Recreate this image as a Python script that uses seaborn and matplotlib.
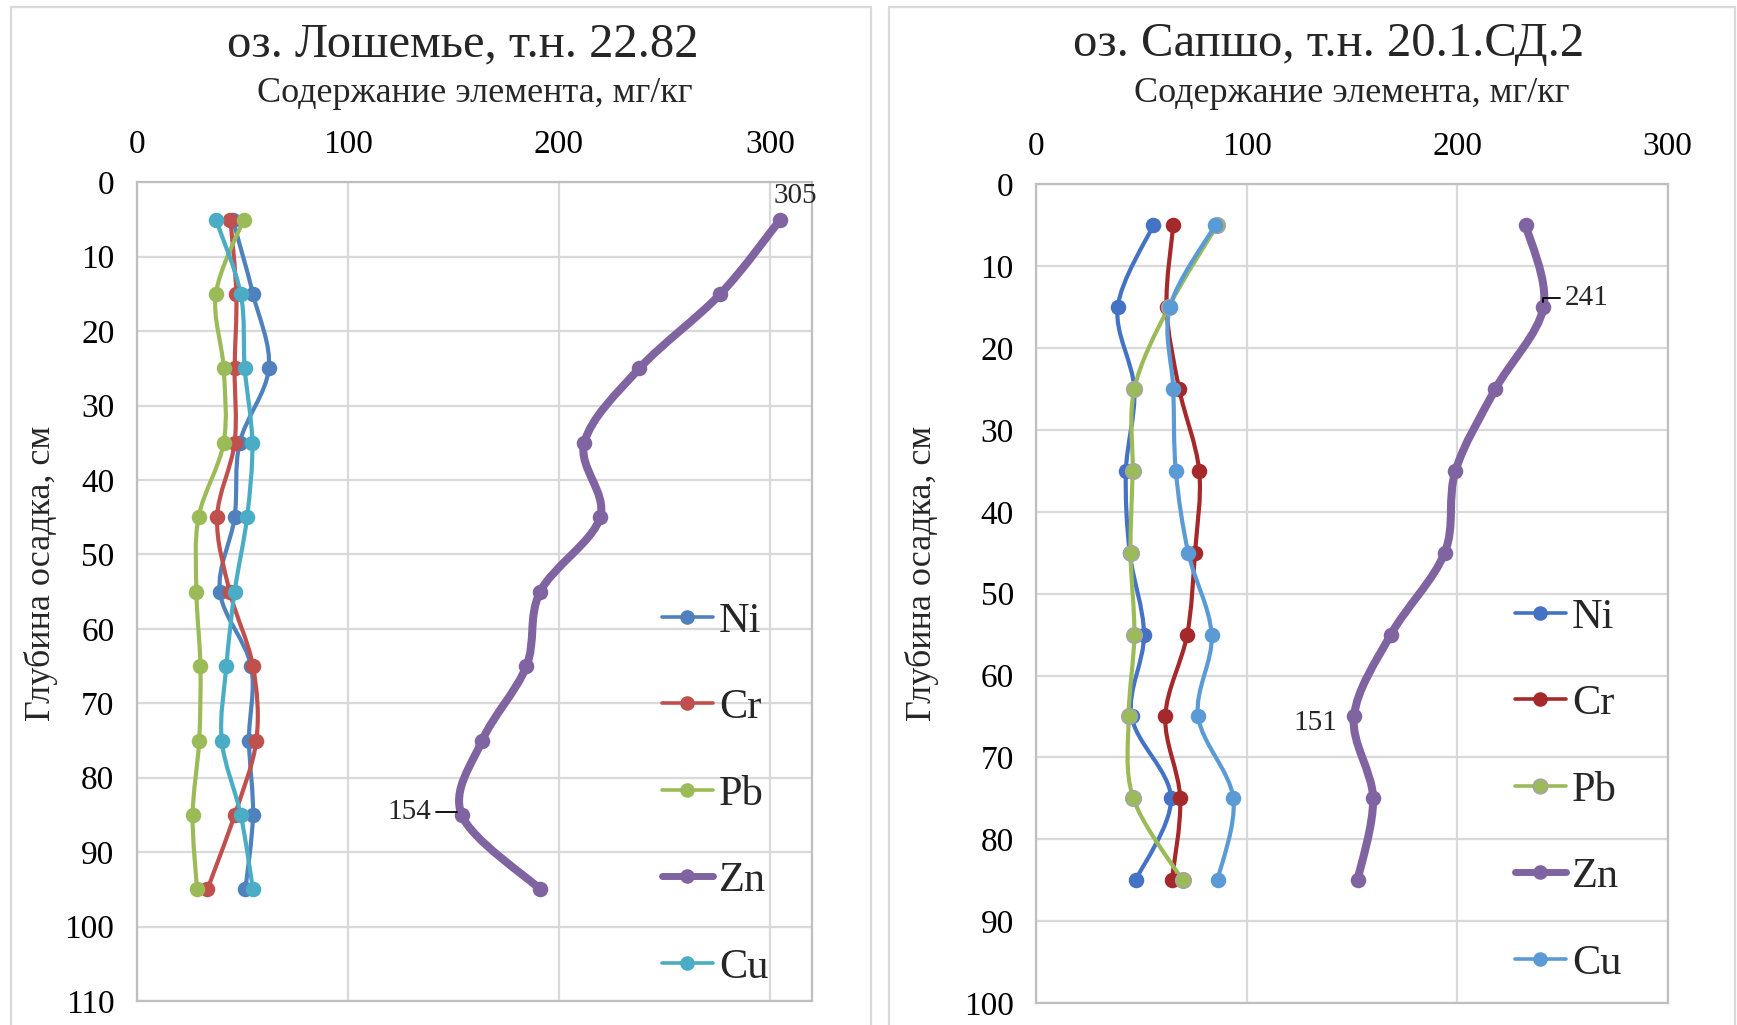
import numpy as np
import matplotlib
matplotlib.use("Agg")
import matplotlib.pyplot as plt
from matplotlib.path import Path
from matplotlib.patches import PathPatch, Rectangle
from matplotlib.lines import Line2D
import seaborn as sns

# ---------------- data ----------------
elements = ["Ni", "Cr", "Pb", "Zn", "Cu"]

depth_L = [5, 15, 25, 35, 45, 55, 65, 75, 85, 95]
ni_L = [45.5, 55.1, 62.6, 48.8, 46.4, 39.4, 54.2, 53.2, 55.1, 51.5]
cr_L = [44.4, 47.2, 46.4, 46.4, 38.1, 44.1, 55.1, 56.7, 46.4, 33.5]
pb_L = [50.7, 37.5, 41.2, 41.2, 29.3, 28.3, 30.2, 29.6, 26.5, 28.6]
zn_L = [305, 276.6, 238.2, 212.1, 219.6, 191.2, 184.7, 163.7, 154, 191.3]
cu_L = [37.5, 49.3, 51.2, 54.8, 52.3, 46.4, 42.5, 40.3, 49.3, 55.1]

depth_R = [5, 15, 25, 35, 45, 55, 65, 75, 85]
ni_R = [55.7, 38.8, 46.7, 42.7, 44.5, 51.3, 45.4, 64.1, 47.3]
cr_R = [65.2, 62.0, 68.0, 77.5, 75.5, 71.8, 61.4, 68.5, 64.5]
pb_R = [86.0, 63.0, 46.7, 45.9, 44.9, 46.7, 44.0, 46.2, 69.6]
zn_R = [232.6, 241, 218.2, 199.2, 194.1, 168.5, 151, 160.1, 152.7]
cu_R = [85.1, 63.6, 65.2, 66.4, 72.3, 83.4, 77.0, 93.7, 86.2]

title_L = "оз. Лошемье, т.н. 22.82"
title_R = "оз. Сапшо, т.н. 20.1.СД.2"
xlabel = "Содержание элемента, мг/кг"
ylabel = "Глубина осадка, см"
xticks = [0, 100, 200, 300]
yticks_L = list(range(0, 111, 10))
yticks_R = list(range(0, 101, 10))

# ---------------- style ----------------
sns.set_theme(style="white")
plt.rcParams["font.family"] = ["Liberation Serif", "DejaVu Serif"]

W, H = 1737, 1025
fig = plt.figure(figsize=(W / 100, H / 100), dpi=100)
fig.patch.set_facecolor("white")

def fx(px):
    return px / W

def fy(py):
    return 1 - py / H

# chart-area borders
for x0, x1 in [(11, 871), (889, 1735)]:
    fig.add_artist(Rectangle((fx(x0), fy(1030)), fx(x1 - x0), (1030 - 7) / H,
                             transform=fig.transFigure, fill=False,
                             edgecolor="#D9D9D9", lw=1.6, zorder=0))


def smooth_path(xs, ys):
    pts = np.column_stack([xs, ys]).astype(float)
    n = len(pts)
    verts = [pts[0]]
    codes = [Path.MOVETO]
    for i in range(n - 1):
        p0 = pts[i - 1] if i > 0 else pts[i]
        p1 = pts[i]
        p2 = pts[i + 1]
        p3 = pts[i + 2] if i + 2 < n else pts[i + 1]
        c1 = p1 + (p2 - p0) / 6.0
        c2 = p2 - (p3 - p1) / 6.0
        verts += [c1, c2, p2]
        codes += [Path.CURVE4] * 3
    return Path(verts, codes)


def panel(rect, depth, series, colors, xmax, ymax, yticks, title, title_x,
          legend_anchor, pb_edge, annots, ylab_x):
    ax = fig.add_axes(rect)
    ax.set_facecolor("white")
    lws = {"Ni": 3.0, "Cr": 3.0, "Pb": 3.0, "Zn": 5.8, "Cu": 3.0}
    handles = []
    for name, vals in zip(elements, series):
        col = colors[name]
        patch = PathPatch(smooth_path(vals, depth), facecolor="none",
                          edgecolor=col, lw=lws[name], capstyle="round",
                          joinstyle="round", zorder=3)
        ax.add_patch(patch)
        ec = pb_edge if (name == "Pb" and pb_edge) else col
        lwe = 1.2 if (name == "Pb" and pb_edge) else 0
        sns.scatterplot(x=vals, y=depth, ax=ax, color=col, s=125,
                        edgecolor=ec, linewidth=lwe, zorder=4, legend=False)
        handles.append(Line2D([0], [0], color=col,
                              lw=(5.0 if name == "Zn" else 2.6),
                              marker="o", markersize=10.5,
                              markerfacecolor=col, markeredgecolor=ec,
                              markeredgewidth=lwe, solid_capstyle="round"))
    ax.set_xlim(0, xmax)
    ax.set_ylim(ymax, 0)
    ax.set_xticks(xticks)
    ax.set_yticks(yticks)
    ax.xaxis.tick_top()
    ax.tick_params(axis="x", length=0, pad=16, labelsize=24, colors="black")
    ax.tick_params(axis="y", length=0, pad=16, labelsize=24, colors="black")
    ax.grid(True, color="#D9D9D9", lw=1.6)
    ax.set_axisbelow(True)
    for s in ax.spines.values():
        s.set_color("#BFBFBF")
        s.set_linewidth(1.6)
    ax.set_xlabel("")
    ax.set_ylabel("")
    # titles / labels
    cx = rect[0] + rect[2] / 2
    fig.text(title_x, fy(44), title, ha="center", va="center", fontsize=35)
    fig.text(cx, fy(93), xlabel, ha="center", va="center", fontsize=26)
    fig.text(ylab_x, fy(573), ylabel, ha="center", va="center", fontsize=26,
             rotation=90)
    ax.legend(handles, elements, loc="upper left",
              bbox_to_anchor=legend_anchor, bbox_transform=fig.transFigure,
              frameon=False, fontsize=30.5, handlelength=1.2,
              handletextpad=0.15, labelspacing=1.13, borderpad=0,
              borderaxespad=0)
    for (xv, yv, txt, dx, dy, ha, leader) in annots:
        kw = {}
        if leader:
            kw["arrowprops"] = dict(arrowstyle="-", color="black", lw=1.3,
                                    shrinkA=1, shrinkB=4,
                                    connectionstyle=leader)
        ax.annotate(txt, (xv, yv), xytext=(dx, dy), textcoords="offset points",
                    ha=ha, va="center", fontsize=21, zorder=6, **kw)
    return ax


colors_L = {"Ni": "#4F81BD", "Cr": "#C0504D", "Pb": "#9BBB59",
            "Zn": "#8064A2", "Cu": "#4BACC6"}
colors_R = {"Ni": "#4472C4", "Cr": "#A5282A", "Pb": "#9BBB59",
            "Zn": "#8064A2", "Cu": "#5B9BD5"}

rect_L = [fx(136.7), fy(1001), fx(812 - 136.7), (1001 - 182.3) / H]
rect_R = [fx(1036), fy(1003), fx(1667.7 - 1036), (1003 - 184.3) / H]

panel(rect_L, depth_L, [ni_L, cr_L, pb_L, zn_L, cu_L], colors_L, 320, 110,
      yticks_L, title_L, fx(463), (fx(662), fy(602)), None,
      [(zn_L[0], depth_L[0], "305", 11, 17, "center", None),
       (zn_L[8], depth_L[8], "154", -22, 2, "right",
        "angle,angleA=0,angleB=-40,rad=0")],
      fx(41))

panel(rect_R, depth_R, [ni_R, cr_R, pb_R, zn_R, cu_R], colors_R, 300, 100,
      yticks_R, title_R, fx(1329), (fx(1515), fy(598)), "#A5A5A5",
      [(zn_R[1], depth_R[1], "241", 15, 6.5, "left",
        "angle,angleA=0,angleB=90,rad=0"),
       (zn_R[6], depth_R[6], "151", -12, -5, "right", None)],
      fx(922))

fig.savefig("out.png", dpi=100, facecolor="white")
